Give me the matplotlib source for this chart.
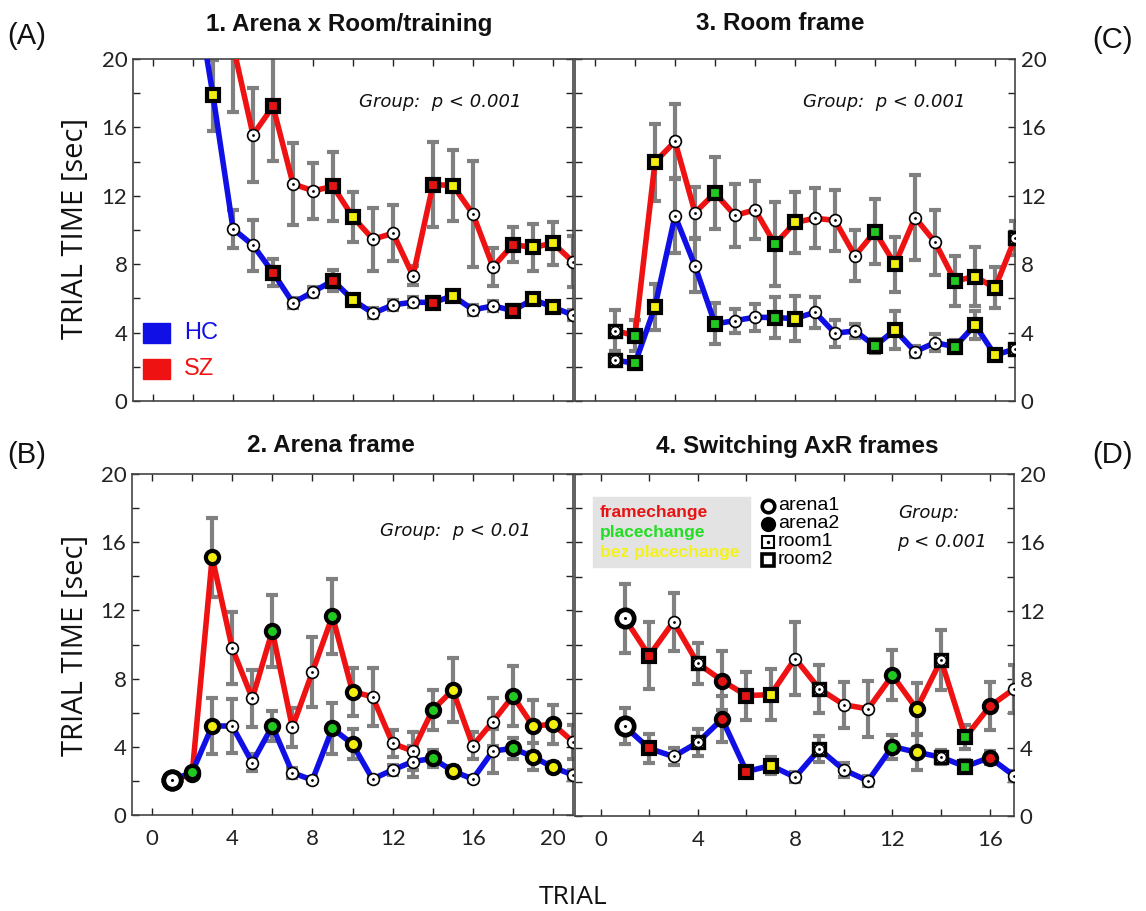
import matplotlib
matplotlib.use("Agg")
import matplotlib.pyplot as plt
from matplotlib.patches import Rectangle
from matplotlib.ticker import MultipleLocator

# ---------------- data ----------------
trials_A = list(range(1, 22))
hc_A = [35, 25, 17.87, 10.07, 9.11, 7.51, 5.74, 6.38, 7.04, 5.91, 5.13, 5.62, 5.78, 5.76, 6.15, 5.33, 5.56, 5.29, 5.95, 5.48, 5.03]
hc_A_err = [3, 2.5, 2.1, 1.1, 1.5, 0.8, 0.3, 0.3, 0.6, 0.3, 0.3, 0.3, 0.3, 0.3, 0.3, 0.3, 0.3, 0.3, 0.3, 0.3, 0.3]
sz_A = [40, 30, 24, 20.8, 15.57, 17.23, 12.70, 12.29, 12.55, 10.75, 9.46, 9.81, 7.32, 12.66, 12.60, 10.93, 7.84, 9.15, 8.98, 9.23, 8.14]
sz_A_err = [4, 4, 3, 3.9, 2.75, 3.2, 2.4, 1.65, 2.0, 1.45, 1.85, 1.65, 0.55, 2.5, 2.1, 3.1, 1.1, 1.05, 1.4, 1.25, 1.5]
markers_A = ['sr', 'c', 'sy', 'c', 'c', 'sr', 'c', 'c', 'sr', 'sy', 'c', 'c', 'c', 'sr', 'sy', 'c', 'c', 'sr', 'sy', 'sy', 'c']

trials_C = list(range(1, 22))
hc_C = [2.4, 2.2, 5.52, 10.83, 7.9, 4.51, 4.70, 4.9, 4.88, 4.82, 5.19, 3.96, 4.1, 3.22, 4.16, 2.89, 3.41, 3.18, 4.45, 2.69, 3.04]
hc_C_err = [0.3, 0.3, 1.35, 2.2, 1.55, 1.2, 0.7, 0.8, 1.2, 1.3, 0.9, 0.8, 0.4, 0.4, 1.1, 0.3, 0.5, 0.4, 0.8, 0.3, 0.3]
sz_C = [4.12, 3.82, 13.97, 15.18, 11.02, 12.16, 10.85, 11.18, 9.17, 10.44, 10.69, 10.56, 8.49, 9.91, 8.0, 10.73, 9.29, 7.02, 7.28, 6.61, 9.52]
sz_C_err = [1.2, 0.9, 2.25, 2.2, 1.5, 2.1, 1.85, 1.7, 2.45, 1.8, 1.75, 1.8, 1.5, 1.9, 1.6, 2.5, 1.9, 1.45, 1.75, 1.2, 1.0]
markers_C = ['q', 'sg', 'sy', 'c', 'c', 'sg', 'c', 'c', 'sg', 'sy', 'c', 'c', 'c', 'sg', 'sy', 'c', 'c', 'sg', 'sy', 'sy', 'q']

trials_B = list(range(1, 22))
hc_B = [2.05, 2.5, 5.22, 5.22, 3.07, 5.22, 2.48, 2.05, 5.08, 4.16, 2.11, 2.64, 3.13, 3.32, 2.58, 2.11, 3.75, 3.91, 3.42, 2.8, 2.35]
hc_B_err = [0.2, 0.2, 1.65, 1.6, 0.5, 0.9, 0.3, 0.2, 1.5, 0.9, 0.2, 0.3, 0.9, 0.5, 0.3, 0.2, 1.3, 0.6, 0.8, 0.3, 0.3]
sz_B = [2.05, 2.4, 15.11, 9.78, 6.84, 10.79, 5.14, 8.39, 11.67, 7.23, 6.94, 4.2, 3.75, 6.16, 7.33, 4.07, 5.47, 6.98, 5.22, 5.32, 4.3]
sz_B_err = [0.2, 0.2, 2.3, 2.1, 1.65, 2.1, 1.15, 2.05, 2.2, 1.4, 1.7, 0.8, 1.1, 1.2, 1.9, 0.8, 1.4, 1.75, 1.5, 1.15, 1.0]
markers_B = ['O', 'cg', 'cy', 'c', 'c', 'cg', 'c', 'c', 'cg', 'cy', 'c', 'c', 'c', 'cg', 'cy', 'c', 'c', 'cg', 'cy', 'cy', 'c']

trials_D = list(range(1, 18))
hc_D = [5.24, 3.95, 3.48, 4.3, 5.67, 2.6, 2.95, 2.27, 3.91, 2.7, 2.05, 4.06, 3.73, 3.44, 2.89, 3.42, 2.36]
hc_D_err = [1.05, 0.85, 0.5, 0.8, 1.35, 0.3, 0.5, 0.3, 0.75, 0.4, 0.3, 0.7, 1.05, 0.4, 0.4, 0.4, 0.3]
sz_D = [11.55, 9.38, 11.36, 8.92, 7.92, 7.04, 7.1, 9.21, 7.43, 6.51, 6.26, 8.23, 6.26, 9.12, 4.6, 6.41, 7.43]
sz_D_err = [2.0, 1.95, 1.7, 1.2, 1.7, 1.4, 1.5, 2.15, 1.4, 1.35, 1.65, 1.45, 1.5, 1.75, 0.7, 1.4, 1.4]
markers_D = ['O', 'sr', 'c', 'q', 'cr', 'sr', 'sy', 'c', 'q', 'c', 'c', 'cg', 'cy', 'q', 'sg', 'cr', 'c']

titles = ["1. Arena x Room/training", "3. Room frame", "2. Arena frame", "4. Switching AxR frames"]
panel_labels = ["(A)", "(C)", "(B)", "(D)"]
group_texts = ["Group:  p < 0.001", "Group:  p < 0.001", "Group:  p < 0.01", "Group:\np < 0.001"]
groups = ["HC", "SZ"]
change_types = ["framechange", "placechange", "bez placechange"]
frame_types = ["arena1", "arena2", "room1", "room2"]

# ---------------- style ----------------
RED = '#ee1212'
BLUE = '#1010e6'
GRAY = '#808080'
FILL = {'r': '#e31414', 'g': '#20c820', 'y': '#f2ee10'}
W, H = 1146, 911

fig = plt.figure(figsize=(W / 100, H / 100), dpi=100)


def fr(x0, y0, x1, y1):
    return [x0 / W, 1 - y1 / H, (x1 - x0) / W, (y1 - y0) / H]


def draw_marker(ax, x, y, code):
    kw = dict(linestyle='none', zorder=5, clip_on=True)
    if code == 'c':
        ax.plot(x, y, marker='o', ms=8.5, mfc='white', mec='black', mew=1.2, **kw)
        ax.plot(x, y, marker='o', ms=2.0, mfc='black', mec='black', mew=0, **kw)
    elif code == 'q':
        ax.plot(x, y, marker='s', ms=9, mfc='white', mec='black', mew=2.4, **kw)
        ax.plot(x, y, marker='o', ms=7, mfc='white', mec='black', mew=1.0, **kw)
        ax.plot(x, y, marker='o', ms=2.0, mfc='black', mec='black', mew=0, **kw)
    elif code == 'O':
        ax.plot(x, y, marker='o', ms=12.5, mfc='white', mec='black', mew=3.4, **kw)
        ax.plot(x, y, marker='o', ms=2.2, mfc='black', mec='black', mew=0, **kw)
    elif code[0] == 's':
        ax.plot(x, y, marker='s', ms=8.5, mfc=FILL[code[1]], mec='black', mew=3.0, **kw)
    elif code[0] == 'c':
        ax.plot(x, y, marker='o', ms=9.5, mfc=FILL[code[1]], mec='black', mew=3.0, **kw)


def panel(rect, trials, hc, hc_e, sz, sz_e, markers, xlim, side, xlabels):
    ax = fig.add_axes(rect)
    ax.set_xlim(*xlim)
    ax.set_ylim(0, 20)
    for m, e in ((hc, hc_e), (sz, sz_e)):
        ax.errorbar(trials, m, yerr=e, fmt='none', ecolor=GRAY, elinewidth=3,
                    capsize=4, capthick=3, zorder=2)
    ax.plot(trials, sz, color=RED, lw=4, zorder=3, solid_capstyle='round')
    ax.plot(trials, hc, color=BLUE, lw=4, zorder=3, solid_capstyle='round')
    for series in (sz, hc):
        for x, y, c in zip(trials, series, markers):
            draw_marker(ax, x, y, c)
    ax.xaxis.set_major_locator(MultipleLocator(4))
    ax.xaxis.set_minor_locator(MultipleLocator(2))
    ax.yaxis.set_major_locator(MultipleLocator(4))
    ax.yaxis.set_minor_locator(MultipleLocator(2))
    ax.tick_params(which='both', direction='in', top=True, right=True, length=5,
                   width=1, colors='#222222', labelsize=16, pad=4)
    ax.tick_params(labelbottom=xlabels, labelleft=(side == 'left'), labelright=(side == 'right'))
    ax.tick_params(axis='x', pad=10)
    for lab in ax.get_xticklabels() + ax.get_yticklabels():
        lab.set_fontfamily('Lato')
    for s in ax.spines.values():
        s.set_color('#444444')
        s.set_linewidth(1.2)
    return ax


axA = panel(fr(133, 59, 573, 401), trials_A, hc_A, hc_A_err, sz_A, sz_A_err, markers_A, (-1, 21), 'left', False)
axC = panel(fr(575, 59, 1015, 401), trials_C, hc_C, hc_C_err, sz_C, sz_C_err, markers_C, (-1, 21), 'right', False)
axB = panel(fr(132, 474, 573, 815), trials_B, hc_B, hc_B_err, sz_B, sz_B_err, markers_B, (-1, 21), 'left', True)
axD = panel(fr(575, 474, 1014, 816), trials_D, hc_D, hc_D_err, sz_D, sz_D_err, markers_D, (-1.05, 17), 'right', True)

# titles and panel letters
title_pos = [(349, 24), (780, 24), (331, 446), (797, 446)]
for (x, y), t in zip(title_pos, titles):
    fig.text(x / W, 1 - y / H, t, ha='center', va='center', fontsize=17.5,
             fontweight='bold', family='Liberation Sans', color='#111111')
label_pos = [(27, 36), (1112, 40), (27, 455), (1112, 455)]
for (x, y), t in zip(label_pos, panel_labels):
    fig.text(x / W, 1 - y / H, t, ha='center', va='center', fontsize=21,
             family='Liberation Sans', color='#111111')

# Group p-value texts
grp_pos = [(440, 102), (884, 102), (456, 531)]
for (x, y), t in zip(grp_pos, group_texts[:3]):
    fig.text(x / W, 1 - y / H, t, ha='center', va='center', fontsize=13,
             style='italic', family='DejaVu Sans', color='#111111')
fig.text(898 / W, 1 - 513 / H, "Group:", ha='left', va='center', fontsize=13,
         style='italic', family='DejaVu Sans', color='#111111')
fig.text(897 / W, 1 - 542 / H, "p < 0.001", ha='left', va='center', fontsize=13,
         style='italic', family='DejaVu Sans', color='#111111')

# y labels / x label
for yc in (228, 645):
    fig.text(75 / W, 1 - yc / H, "TRIAL TIME [sec]", rotation=90, ha='center', va='center',
             fontsize=21, family='Open Sans', color='#111111')
fig.text(573 / W, 1 - 897 / H, "TRIAL", ha='center', va='center', fontsize=19,
         family='Open Sans', color='#111111')

# HC / SZ legend (panel A)
for (y0, y1, yc), g, col in zip([(323, 343, 333), (359, 379, 369)], groups, [BLUE, RED]):
    fig.patches.append(Rectangle((143 / W, 1 - y1 / H), 27 / W, (y1 - y0) / H,
                                 transform=fig.transFigure, color=col, zorder=10))
    fig.text(184 / W, 1 - yc / H, g, ha='left', va='center', fontsize=17,
             family='Liberation Sans', color=col, zorder=10)

# change-type legend (panel D)
fig.patches.append(Rectangle((593 / W, 1 - 567 / H), 157 / W, 70 / H,
                             transform=fig.transFigure, color='#e3e3e3', zorder=10))
for yc, t, col in zip((512, 533, 553), change_types, ['#e61414', '#22dd22', '#f5f21a']):
    fig.text(600 / W, 1 - yc / H, t, ha='left', va='center', fontsize=12.5,
             fontweight='bold', family='Liberation Sans', color=col, zorder=11)

# frame-type legend (panel D)
leg_codes = ['O', 'A2', 'Q', 'S']
for yc, t, code in zip((506, 524, 542, 560), frame_types, leg_codes):
    xm, ym = 768 / W, 1 - yc / H
    if code == 'O':
        fig.lines.append(plt.Line2D([xm], [ym], transform=fig.transFigure, marker='o', ms=9,
                                    mfc='white', mec='black', mew=2.6, zorder=12))
    elif code == 'A2':
        fig.lines.append(plt.Line2D([xm], [ym], transform=fig.transFigure, marker='o', ms=10,
                                    mfc='black', mec='black', mew=1, zorder=12))
    elif code == 'Q':
        fig.lines.append(plt.Line2D([xm], [ym], transform=fig.transFigure, marker='s', ms=9,
                                    mfc='white', mec='black', mew=1.5, zorder=12))
        fig.lines.append(plt.Line2D([xm], [ym], transform=fig.transFigure, marker='o', ms=2.5,
                                    mfc='black', mec='black', mew=0, zorder=13))
    else:
        fig.lines.append(plt.Line2D([xm], [ym], transform=fig.transFigure, marker='s', ms=9,
                                    mfc='white', mec='black', mew=2.6, zorder=12))
    fig.text(778 / W, 1 - yc / H, t, ha='left', va='center', fontsize=14,
             family='Liberation Sans', color='black', zorder=12)

fig.savefig("out.png", dpi=100)
